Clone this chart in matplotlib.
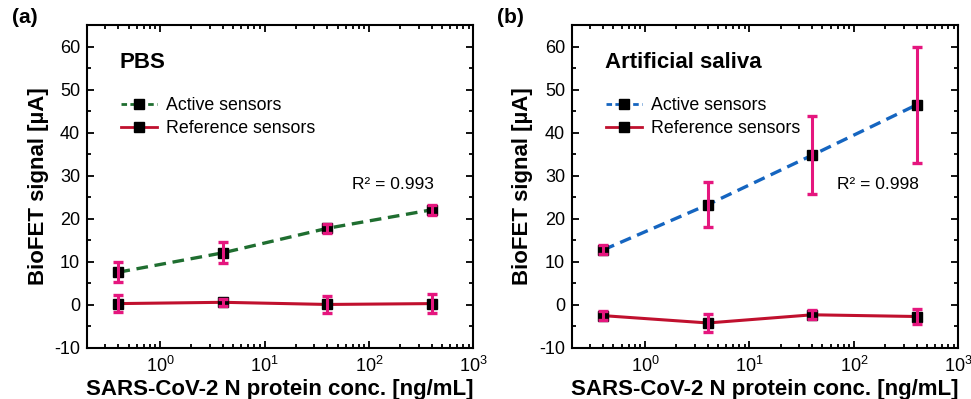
import matplotlib
matplotlib.use("Agg")
import matplotlib.pyplot as plt
from matplotlib.ticker import LogLocator, MultipleLocator, NullFormatter
from matplotlib.lines import Line2D

plt.rcParams['font.family'] = ['Liberation Sans', 'DejaVu Sans']
plt.rcParams['axes.unicode_minus'] = False

conc = [0.4, 4, 40, 400]
pbs_active = [7.6, 12.1, 17.8, 22.1]
pbs_active_err = [2.3, 2.4, 1.1, 1.2]
pbs_ref = [0.3, 0.6, 0.1, 0.3]
pbs_ref_err = [2.0, 0.8, 1.9, 2.2]
sal_active = [12.8, 23.3, 34.8, 46.5]
sal_active_err = [1.0, 5.2, 9.1, 13.5]
sal_ref = [-2.5, -4.2, -2.3, -2.7]
sal_ref_err = [1.0, 2.0, 1.0, 1.7]

panels = [
    ("(a)", "PBS", pbs_active, pbs_active_err, pbs_ref, pbs_ref_err, "#1F6E30", "R² = 0.993"),
    ("(b)", "Artificial saliva", sal_active, sal_active_err, sal_ref, sal_ref_err, "#1565C0", "R² = 0.998"),
]

fig = plt.figure(figsize=(9.71, 3.99), dpi=100)
lefts = [0.0896, 0.589]
err_color = "#E5167E"
ref_color = "#C0102E"

for (lab, title, act, acte, ref, refe, acol, r2), left in zip(panels, lefts):
    ax = fig.add_axes([left, 0.128, 0.398, 0.809])
    ax.set_xscale('log')
    ax.plot(conc, ref, '-', color=ref_color, lw=2.2, zorder=3)
    ax.plot(conc, act, '--', color=acol, lw=2.4, dashes=(3.5, 2), zorder=3)
    ax.plot(conc, ref, 's', color='black', ms=7, zorder=4)
    ax.plot(conc, act, 's', color='black', ms=7, zorder=4)
    ax.errorbar(conc, ref, yerr=refe, fmt='none', ecolor=err_color, elinewidth=2.2, capsize=3.5, capthick=2.4, zorder=5)
    ax.errorbar(conc, act, yerr=acte, fmt='none', ecolor=err_color, elinewidth=2.2, capsize=3.5, capthick=2.4, zorder=5)
    ax.set_xlim(0.2, 1000)
    ax.set_ylim(-10, 65)
    ax.yaxis.set_major_locator(MultipleLocator(10))
    ax.yaxis.set_minor_locator(MultipleLocator(5))
    ax.xaxis.set_major_locator(LogLocator(base=10, numticks=10))
    ax.xaxis.set_minor_locator(LogLocator(base=10, subs=range(2, 10), numticks=20))
    ax.xaxis.set_minor_formatter(NullFormatter())
    ax.tick_params(which='both', direction='in', top=True, right=True, labelsize=13, width=1.3)
    ax.tick_params(which='major', length=5)
    ax.tick_params(which='minor', length=3)
    ax.tick_params(axis='x', pad=6)
    ax.tick_params(axis='y', pad=5)
    for s in ax.spines.values():
        s.set_linewidth(1.5)
    ax.set_xlabel("SARS-CoV-2 N protein conc. [ng/mL]", fontsize=16, fontweight='bold', labelpad=2)
    ax.set_ylabel("BioFET signal [µA]", fontsize=16, fontweight='bold', labelpad=4)
    ax.text(0.085, 0.885, title, transform=ax.transAxes, fontsize=16, fontweight='bold', va='center')
    handles = [
        Line2D([0], [0], color=acol, ls='--', lw=2, dashes=(2, 1.2), marker='s', mfc='black', mec='black', ms=7),
        Line2D([0], [0], color=ref_color, ls='-', lw=2, marker='s', mfc='black', mec='black', ms=7),
    ]
    ax.legend(handles, ["Active sensors", "Reference sensors"], loc='upper left',
              bbox_to_anchor=(0.07, 0.8), frameon=False, fontsize=12.8, handlelength=2.0,
              handletextpad=0.5, labelspacing=0.35, borderaxespad=0)
    ax.text(0.685, 0.505, r2, transform=ax.transAxes, fontsize=12.5, va='center')
    fig.text(left - 0.077, 0.955, lab, fontsize=15, fontweight='bold', va='center')

fig.savefig("out.png", dpi=100)
